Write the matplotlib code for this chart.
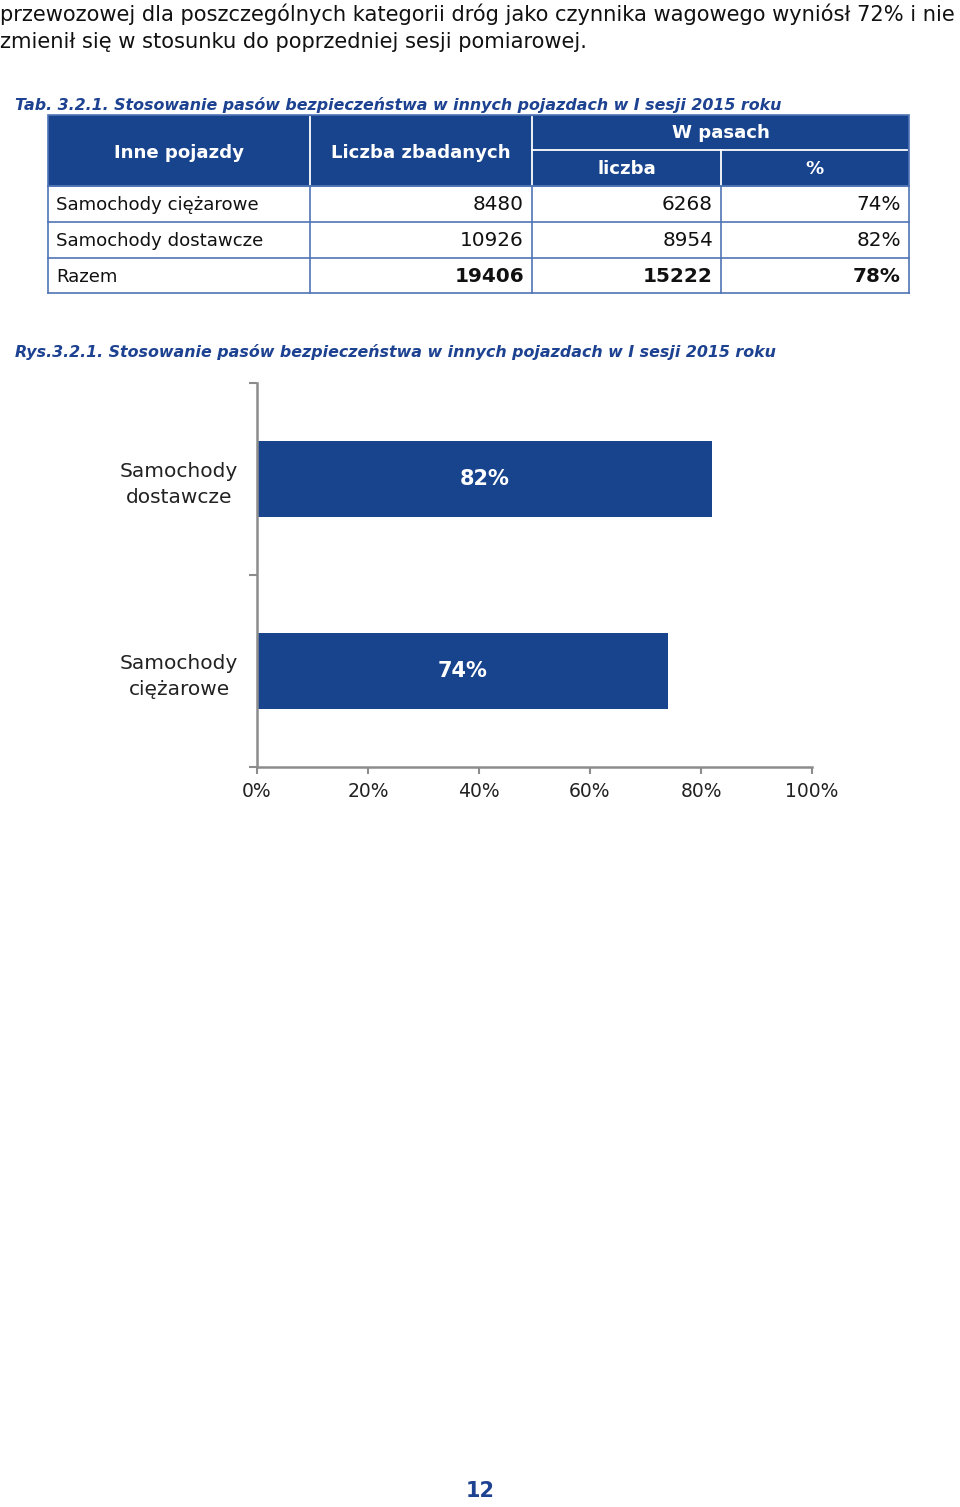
import matplotlib
matplotlib.use("Agg")
import matplotlib.pyplot as plt
from matplotlib.patches import Rectangle

# ---------------- data ----------------
intro_lines = [
    "przewozowej dla poszczególnych kategorii dróg jako czynnika wagowego wyniósł 72% i nie",
    "zmienił się w stosunku do poprzedniej sesji pomiarowej.",
]
table_title = "Tab. 3.2.1. Stosowanie pasów bezpieczeństwa w innych pojazdach w I sesji 2015 roku"
chart_title = "Rys.3.2.1. Stosowanie pasów bezpieczeństwa w innych pojazdach w I sesji 2015 roku"
col_headers = ["Inne pojazdy", "Liczba zbadanych", "W pasach", "liczba", "%"]
row_names = ["Samochody ciężarowe", "Samochody dostawcze", "Razem"]
examined = [8480, 10926, 19406]
belted = [6268, 8954, 15222]
belted_pct = [74, 82, 78]
chart_categories = ["Samochody\nciężarowe", "Samochody\ndostawcze"]
chart_values = [74, 82]
x_ticks = [0, 20, 40, 60, 80, 100]
page_number = "12"

BLUE = "#18448d"
TXT_BLUE = "#1d4291"
GRID = "#4f74b5"
FONT = "DejaVu Sans"

W, H = 960, 1507
fig = plt.figure(figsize=(W / 100, H / 100), dpi=100)
fig.patch.set_facecolor("white")

# page-coordinate overlay (pixels)
pg = fig.add_axes([0, 0, 1, 1], zorder=0)
pg.set_xlim(0, W)
pg.set_ylim(H, 0)
pg.axis("off")

# intro paragraph
for i, line in enumerate(intro_lines):
    pg.text(0, 14 + 28 * i, line, fontsize=15.1, family=FONT, color="#111111",
            va="center", ha="left")

pg.text(15, 105, table_title, fontsize=11.4, family=FONT, color=TXT_BLUE,
        fontweight="bold", fontstyle="italic", va="center", ha="left")

# table geometry
cx = [48, 310, 532, 721, 909]
ry = [115, 150, 186, 222, 258, 293]

# header
pg.add_patch(Rectangle((cx[0], ry[0]), cx[-1] - cx[0], ry[2] - ry[0],
                       facecolor=BLUE, edgecolor=GRID, lw=1.2, zorder=1))
for x in (cx[1], cx[2]):
    pg.plot([x, x], [ry[0] + 2, ry[2]], color="white", lw=1.3, zorder=2)
pg.plot([cx[3], cx[3]], [ry[1], ry[2]], color="white", lw=1.3, zorder=2)
pg.plot([cx[2], cx[4] - 2], [ry[1], ry[1]], color="white", lw=1.3, zorder=2)

hdr_kw = dict(fontsize=13.1, family=FONT, color="white", fontweight="bold",
              va="center", ha="center", zorder=3)
pg.text((cx[0] + cx[1]) / 2, (ry[0] + ry[2]) / 2 + 2, col_headers[0], **hdr_kw)
pg.text((cx[1] + cx[2]) / 2, (ry[0] + ry[2]) / 2 + 2, col_headers[1], **hdr_kw)
pg.text((cx[2] + cx[4]) / 2, (ry[0] + ry[1]) / 2 + 1, col_headers[2], **hdr_kw)
pg.text((cx[2] + cx[3]) / 2, (ry[1] + ry[2]) / 2 + 1, col_headers[3], **hdr_kw)
pg.text((cx[3] + cx[4]) / 2, (ry[1] + ry[2]) / 2 + 1, col_headers[4], **hdr_kw)

# body grid
for y in ry[2:]:
    pg.plot([cx[0], cx[-1]], [y, y], color=GRID, lw=1.2, zorder=2)
for x in cx:
    pg.plot([x, x], [ry[2], ry[-1]], color=GRID, lw=1.2, zorder=2)

for i, name in enumerate(row_names):
    yc = (ry[2 + i] + ry[3 + i]) / 2 + 1
    bold = "bold" if i == len(row_names) - 1 else "normal"
    pg.text(cx[0] + 8, yc, name, fontsize=13.1, family=FONT, color="#111111",
            va="center", ha="left")
    vals = [str(examined[i]), str(belted[i]), f"{belted_pct[i]}%"]
    for j, v in enumerate(vals):
        pg.text(cx[j + 2] - 8, yc, v, fontsize=14.4, family=FONT, color="#111111",
                fontweight=bold, va="center", ha="right")

pg.text(15, 352, chart_title, fontsize=11.4, family=FONT, color=TXT_BLUE,
        fontweight="bold", fontstyle="italic", va="center", ha="left")

pg.text(480, 1491, page_number, fontsize=15, family=FONT, color=TXT_BLUE,
        fontweight="bold", va="center", ha="center")

# ---------------- chart ----------------
ax_l, ax_r, ax_t, ax_b = 257, 812, 383, 767
ax = fig.add_axes([ax_l / W, 1 - ax_b / H, (ax_r - ax_l) / W, (ax_b - ax_t) / H], zorder=2)
ax.patch.set_alpha(0)
ypos = list(range(len(chart_categories)))
ax.barh(ypos, chart_values, height=0.4, color=BLUE, zorder=2)
for y, v in zip(ypos, chart_values):
    ax.text(v / 2, y, f"{v}%", ha="center", va="center", color="white",
            fontsize=15, fontweight="bold", family=FONT, zorder=3)

ax.set_xlim(0, 100)
ax.set_ylim(-0.5, len(chart_categories) - 0.5)
ax.set_xticks(x_ticks)
ax.set_xticklabels([f"{t}%" for t in x_ticks], fontsize=13.5, family=FONT, color="#222222")
ax.set_yticks(ypos)
ax.set_yticklabels(chart_categories, fontsize=14.5, family=FONT, color="#222222",
                   ha="center", linespacing=1.45)
ax.set_yticks([-0.5, 0.5, 1.5], minor=True)
ax.tick_params(axis="y", which="major", length=0, pad=56)
ax.tick_params(axis="y", which="minor", length=6, width=1.5, color="#8c8c8c")
ax.tick_params(axis="x", which="major", length=5, width=1.5, color="#8c8c8c", pad=6)
for s in ("top", "right"):
    ax.spines[s].set_visible(False)
for s in ("left", "bottom"):
    ax.spines[s].set_color("#8c8c8c")
    ax.spines[s].set_linewidth(1.8)

fig.savefig("out.png", dpi=100, facecolor="white")
